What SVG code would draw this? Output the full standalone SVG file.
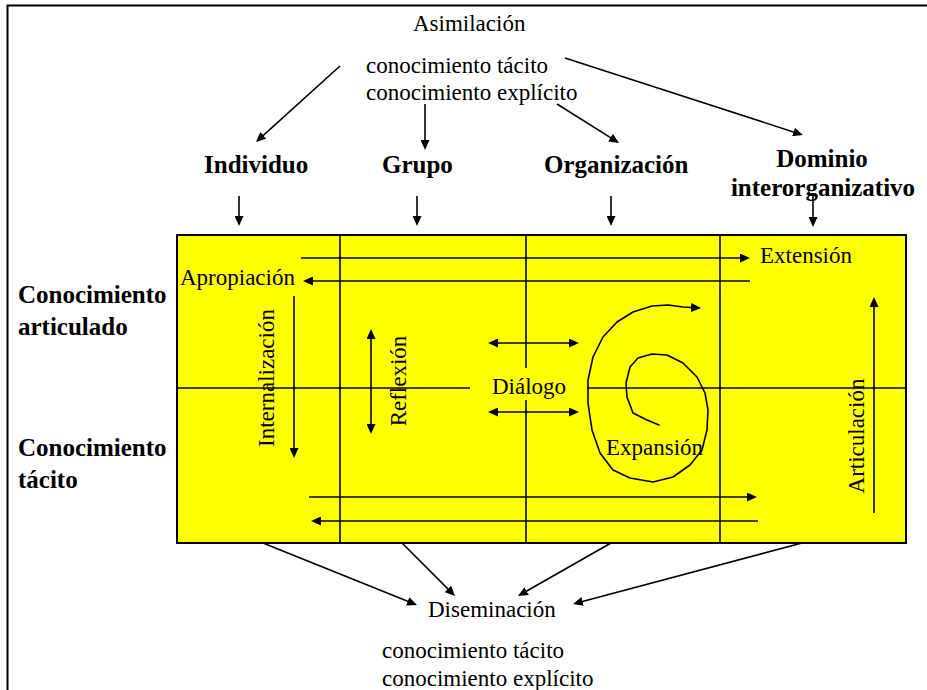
<svg xmlns="http://www.w3.org/2000/svg" width="927" height="690" viewBox="0 0 927 690">
  <style>
    .t { font-family: "Liberation Serif", "Times New Roman", serif; font-size: 23px; fill: #000; }
    .b { font-family: "Liberation Serif", "Times New Roman", serif; font-size: 25px; font-weight: bold; fill: #000; }
    .ln { stroke: #000; stroke-width: 1.6; fill: none; }
    .arr { stroke: #000; stroke-width: 1.6; fill: none; marker-end: url(#ah); }
    .dbl { stroke: #000; stroke-width: 1.6; fill: none; marker-start: url(#ah); marker-end: url(#ah); }
  </style>
  <defs>
    <marker id="ah" viewBox="0 0 10 9" markerWidth="10" markerHeight="9" refX="8" refY="4.5" orient="auto-start-reverse" markerUnits="userSpaceOnUse">
      <path d="M0,0 L10,4.5 L0,9 z" fill="#000"/>
    </marker>
  </defs>

  <rect width="927" height="690" fill="#fff"/>

  <!-- page frame: top and left edges -->
  <path d="M7.5,690 L7.5,5.5 L927,5.5" stroke="#000" stroke-width="2" fill="none"/>

  <!-- knowledge matrix -->
  <g id="matrix">
    <rect x="177" y="235" width="729" height="308" fill="#ffff00" stroke="#000" stroke-width="2"/>
    <line class="ln" x1="340" y1="235" x2="340" y2="543"/>
    <line class="ln" x1="526" y1="235" x2="526" y2="543"/>
    <line class="ln" x1="720" y1="235" x2="720" y2="543"/>
    <line class="ln" x1="177" y1="388" x2="906" y2="388"/>
  </g>

  <!-- top labels -->
  <g id="asimilacion">
    <text class="t" x="413" y="31">Asimilación</text>
    <text class="t" x="366" y="73">conocimiento tácito</text>
    <text class="t" x="366" y="100">conocimiento explícito</text>
  </g>
  <g id="individuo"><text class="b" x="204" y="173">Individuo</text></g>
  <g id="grupo"><text class="b" x="382" y="173">Grupo</text></g>
  <g id="organizacion"><text class="b" x="544" y="173">Organización</text></g>
  <g id="dominio">
    <text class="b" x="822" y="167" text-anchor="middle">Dominio</text>
    <text class="b" x="823" y="196" text-anchor="middle">interorganizativo</text>
  </g>

  <!-- row labels -->
  <g id="articulado">
    <text class="b" x="18" y="303">Conocimiento</text>
    <text class="b" x="18" y="335">articulado</text>
  </g>
  <g id="tacito">
    <text class="b" x="18" y="456">Conocimiento</text>
    <text class="b" x="18" y="488">tácito</text>
  </g>

  <!-- connectors -->
  <g id="connectors">
    <!-- from the assimilation source -->
    <line class="arr" x1="340" y1="66" x2="257.5" y2="140.7"/>
    <line class="arr" x1="425" y1="104" x2="425" y2="148"/>
    <line class="arr" x1="557" y1="104" x2="617.3" y2="141.9"/>
    <line class="arr" x1="565" y1="58" x2="801.1" y2="134.4"/>
    <!-- levels into the matrix -->
    <line class="arr" x1="239" y1="196" x2="239" y2="224"/>
    <line class="arr" x1="417" y1="196" x2="417" y2="224"/>
    <line class="arr" x1="611" y1="196" x2="611" y2="224"/>
    <line class="arr" x1="813" y1="196" x2="813" y2="225"/>
    <!-- extension / appropriation -->
    <line class="arr" x1="301" y1="258" x2="748" y2="258"/>
    <line class="arr" x1="750" y1="281" x2="305" y2="281"/>
    <!-- internalization, reflection, articulation -->
    <line class="arr" x1="294" y1="296" x2="294" y2="456"/>
    <line class="dbl" x1="371" y1="331" x2="371" y2="432"/>
    <line class="arr" x1="874" y1="513" x2="874" y2="299"/>
    <!-- dialogue -->
    <line class="dbl" x1="490" y1="343" x2="577" y2="343"/>
    <line class="dbl" x1="490" y1="412" x2="577" y2="412"/>
    <!-- lower pair -->
    <line class="arr" x1="309" y1="497" x2="755" y2="497"/>
    <line class="arr" x1="758" y1="521" x2="313" y2="521"/>
    <!-- expansion spiral -->
    <path class="arr" stroke-linejoin="round" stroke-linecap="round" d="M659,425 L647,420 L633,413 L627,397 L626,383 L630,367 L638,358 L652,354 L667,355 L683,363 L697,377 L705,393 L708,410 L707,430 L702,450 L690,465 L673,477 L653,482 L630,478 L613,470 L600,453 L592,430 L588,403 L588,380 L593,357 L603,337 L617,322 L633,312 L652,306 L668,305 L683,307 L699,308"/>
    <!-- towards dissemination -->
    <line class="arr" x1="263" y1="543" x2="415.1" y2="604.3"/>
    <line class="arr" x1="402" y1="543" x2="453.6" y2="594.6"/>
    <line class="arr" x1="611" y1="543" x2="519.7" y2="595"/>
    <line class="arr" x1="802" y1="543" x2="574.9" y2="603.5"/>
  </g>

  <!-- labels inside the matrix -->
  <g id="apropiacion"><text class="t" x="180" y="285">Apropiación</text></g>
  <g id="extension"><text class="t" x="760" y="263">Extensión</text></g>
  <g id="internalizacion"><text class="t" text-anchor="middle" transform="translate(274,378) rotate(-90)">Internalización</text></g>
  <g id="reflexion"><text class="t" text-anchor="middle" transform="translate(406,381) rotate(-90)">Reflexión</text></g>
  <g id="dialogo">
    <rect x="470" y="368" width="117" height="32" fill="#ffff00"/>
    <text class="t" x="529" y="394" text-anchor="middle">Diálogo</text>
  </g>
  <g id="expansion"><text class="t" x="606" y="455">Expansión</text></g>
  <g id="articulacion"><text class="t" text-anchor="middle" transform="translate(864,436) rotate(-90)">Articulación</text></g>

  <!-- bottom labels -->
  <g id="diseminacion">
    <text class="t" x="428" y="617">Diseminación</text>
    <text class="t" x="382" y="658">conocimiento tácito</text>
    <text class="t" x="382" y="686">conocimiento explícito</text>
  </g>
</svg>
